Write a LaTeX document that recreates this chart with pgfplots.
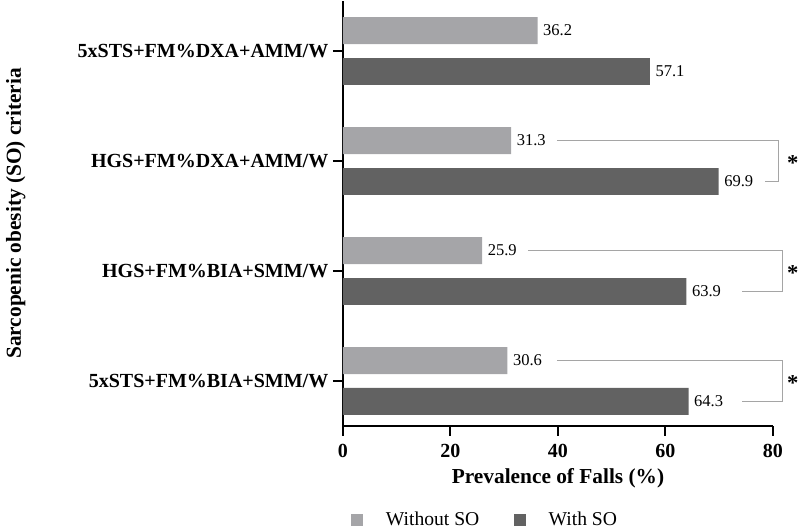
\documentclass[border=0pt]{standalone}
\usepackage{fontspec}
\setmainfont{Liberation Serif}
\usepackage{pgfplots}
\pgfplotsset{compat=1.18}
\definecolor{lightbar}{RGB}{165,165,168}
\definecolor{darkbar}{RGB}{98,98,98}
\definecolor{brk}{RGB}{165,165,165}
\begin{document}
\begin{tikzpicture}
\begin{axis}[
  at={(0,0)}, anchor=south west,
  scale only axis,
  width=322.5pt, height=318.75pt,
  xmin=0, xmax=80,
  ymin=-0.409, ymax=3.455,
  xtick={0,20,40,60,80},
  ytick={0,1,2,3},
  yticklabels={5xSTS+FM\%BIA+SMM/W, HGS+FM\%BIA+SMM/W, HGS+FM\%DXA+AMM/W, 5xSTS+FM\%DXA+AMM/W},
  axis x line*=bottom, axis y line*=left,
  axis line style={line width=1.5pt,-},
  tick style={line width=1.5pt, black},
  tick align=outside,
  major tick length=7.5pt,
  /pgf/number format/assume math mode=true,
  xticklabel style={font=\fontsize{15}{18}\selectfont\bfseries, anchor=base, yshift=-16.5pt},
  yticklabel style={font=\fontsize{15}{18}\selectfont\bfseries, anchor=east, xshift=0pt},
  xlabel={Prevalence of Falls (\%)},
  xlabel style={font=\fontsize{16}{19}\selectfont\bfseries, at={(axis description cs:0.5,0)}, anchor=base, yshift=-43.5pt},
  ylabel={Sarcopenic obesity (SO) criteria},
  ylabel style={font=\fontsize{16}{19}\selectfont\bfseries, at={(axis description cs:0,0.5)}, anchor=base, rotate=0, yshift=241.5pt},
  xbar, bar width=0.245,
  clip=false,
  nodes near coords={\pgfmathprintnumber[fixed,precision=1,fixed zerofill]{\pgfplotspointmeta}},
  every node near coord/.append style={font=\fontsize{12.4}{14}\selectfont, anchor=west, inner sep=0pt, xshift=4pt, black},
  legend style={at={(axis description cs:0,0)}, anchor=west, xshift=6pt, yshift=-70.5pt, draw=none, fill=none,
    font=\fontsize{14.7}{17}\selectfont, legend columns=2, inner sep=0pt,
    /tikz/every even column/.append style={column sep=24pt}},
  sqleg/.style={legend image code/.code={\fill[##1] (0pt,-4.5pt) rectangle (9pt,4.5pt); \path[draw=none,fill=none] (0pt,-0.1pt) rectangle (24pt,0.1pt);}},
]
\addplot[fill=lightbar, draw=none, bar shift=0.186, sqleg] coordinates {(30.6,0) (25.9,1) (31.3,2) (36.2,3)};
\addplot[fill=darkbar, draw=none, bar shift=-0.186, sqleg] coordinates {(64.3,0) (63.9,1) (69.9,2) (57.1,3)};
\legend{Without SO, With SO}
% significance brackets
\draw[brk, line width=0.75pt] (axis cs:39.8,2.186) -- (axis cs:81.1,2.186) -- (axis cs:81.1,1.814) -- (axis cs:78.5,1.814);
\draw[brk, line width=0.75pt] (axis cs:34.4,1.186) -- (axis cs:81.7,1.186) -- (axis cs:81.7,0.814) -- (axis cs:74.2,0.814);
\draw[brk, line width=0.75pt] (axis cs:39.8,0.186) -- (axis cs:81.7,0.186) -- (axis cs:81.7,-0.186) -- (axis cs:74.2,-0.186);
\node[font=\fontsize{17}{20}\selectfont\bfseries, anchor=base, yshift=-7pt, inner sep=0pt] at (axis cs:83.7,2) {*};
\node[font=\fontsize{17}{20}\selectfont\bfseries, anchor=base, yshift=-7pt, inner sep=0pt] at (axis cs:83.7,1) {*};
\node[font=\fontsize{17}{20}\selectfont\bfseries, anchor=base, yshift=-7pt, inner sep=0pt] at (axis cs:83.7,0) {*};
\end{axis}
\path (-257.25pt,-75.75pt) rectangle (342.75pt,318.75pt);
\end{tikzpicture}
\end{document}
